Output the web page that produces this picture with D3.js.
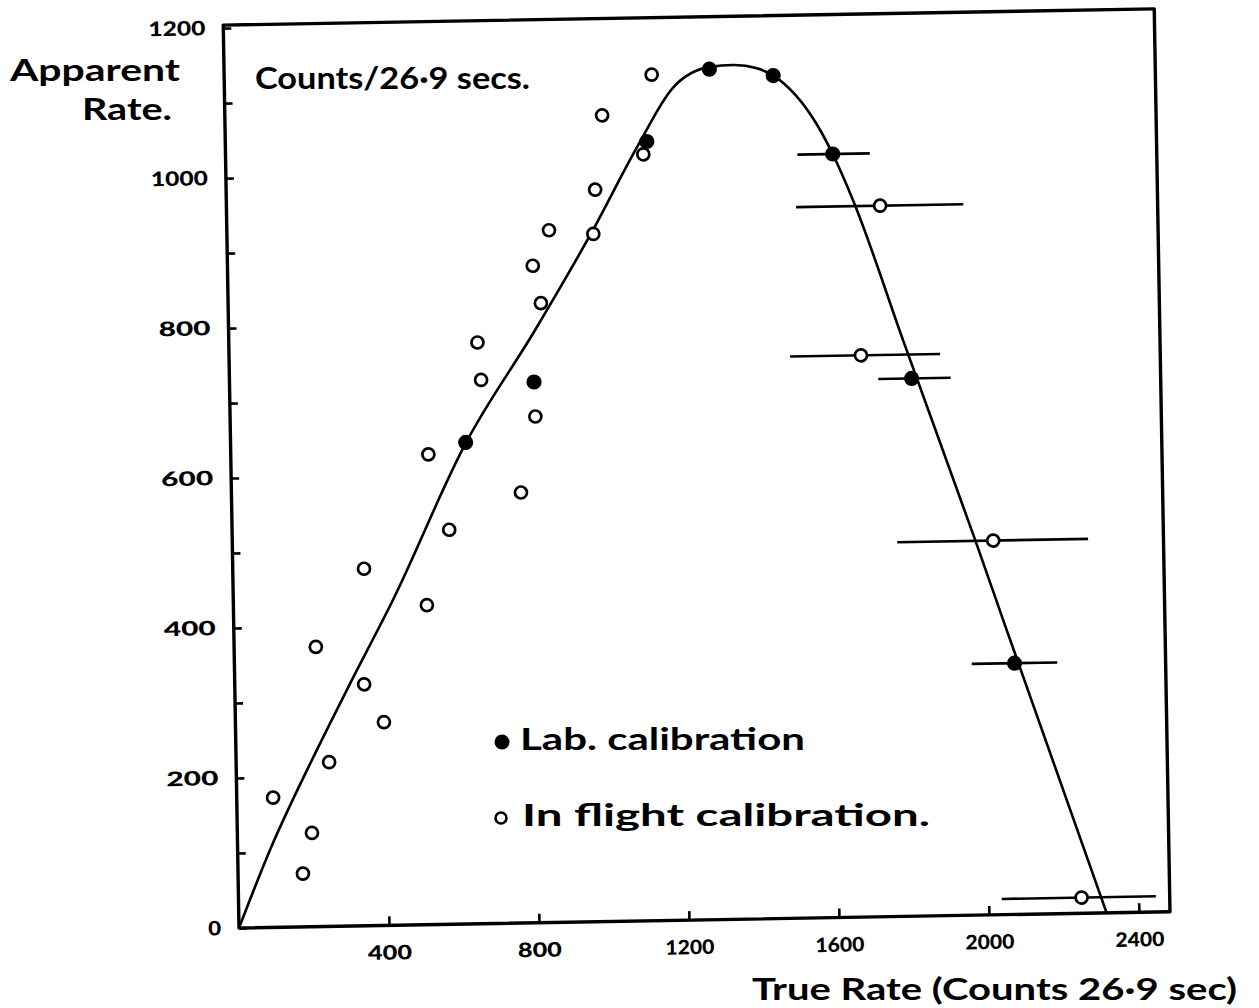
<!DOCTYPE html>
<html>
<head>
<meta charset="utf-8">
<script src="https://cdn.jsdelivr.net/npm/d3@7"></script>
<style>
  html, body { margin: 0; padding: 0; background: #fff; }
  svg { display: block; }
  text { font-family: Lato, "Open Sans", sans-serif; fill: #000; }
</style>
</head>
<body>
<svg id="chart" width="1259" height="1008"></svg>
<script>
// Lab calibration: true rate vs apparent rate (counts / 26.9 s), with horizontal error bounds
const labTrue     = [627, 812, 1124, 1294, 1464, 1619, 1819, 2080];
const labApparent = [642, 721, 1039, 1134, 1124, 1018, 717, 335];
const labErrLow   = [null, null, null, null, null, 1525, 1730, 1966];
const labErrHigh  = [null, null, null, null, null, 1718, 1923, 2194];

// In-flight calibration points
const flightTrue     = [97, 173, 199, 218, 248, 350, 345, 396, 516, 527, 579, 663, 671, 772,
                        814, 814, 834, 859, 977, 984, 1006, 1114, 1140, 1743, 1685, 2029, 2248];
const flightApparent = [173, 71, 125, 373, 219, 476, 322, 271, 426, 627, 526, 775, 725, 574,
                        876, 675, 826, 923, 917, 976, 1075, 1022, 1128, 948, 749, 499, 21];
const flightErrLow   = [null, null, null, null, null, null, null, null, null, null, null, null, null, null,
                        null, null, null, null, null, null, null, null, null, 1519, 1496, 1773, 2035];
const flightErrHigh  = [null, null, null, null, null, null, null, null, null, null, null, null, null, null,
                        null, null, null, null, null, null, null, null, null, 1965, 1896, 2282, 2446];

// Hand-fitted response curve
const curveTrue     = [0, 86, 202, 302, 426, 627, 817, 976, 1098, 1196, 1296, 1357, 1421,
                       1464, 1579, 1619, 1671, 1798, 1981, 2061, 2314];
const curveApparent = [0, 103, 222, 318, 434, 641, 790, 922, 1032, 1110, 1137, 1139, 1134,
                       1124, 1057, 1018, 956, 768, 500, 379, 0];

// Axis ticks
const xTickValues = [400, 800, 1200, 1600, 2000, 2400];
const yTickValues = [0, 100, 200, 300, 400, 500, 600, 700, 800, 900, 1000, 1100, 1200];
const yLabelStep = 200;

// Text
const yTitle = ["Apparent", "Rate."];
const unitNote = "Counts/26·9 secs.";
const xTitle = "True Rate (Counts 26·9 sec)";
const legendLabels = ["Lab. calibration", "In flight calibration."];

const svg = d3.select("#chart");

const x = d3.scaleLinear().domain([0, 2400]).range([0, 900]);
const y = d3.scaleLinear().domain([0, 1200]).range([0, -900]);
const xMax = 2483, yMax = 1204;

// plot area, drawn slightly tilted like the paper sheet
const g = svg.append("g").attr("transform", "translate(239,928) rotate(-1)");

// frame
g.append("path")
  .attr("d", `M0,0 L${x(xMax)},0 L${x(xMax)},${y(yMax)} L0,${y(yMax)} Z`)
  .attr("fill", "none").attr("stroke", "#000").attr("stroke-width", 3.4)
  .attr("stroke-linejoin", "round");

// tick label width by digit count, to mimic the broad hand lettering
const tickLen = s => ({ 1: 13, 3: 52, 4: 57 })[String(s).length];

// axes
const yAxis = d3.axisLeft(y).tickValues(yTickValues)
  .tickSizeInner(-8).tickSizeOuter(0).tickPadding(18)
  .tickFormat(d => d % yLabelStep === 0 ? String(d) : "");
const gy = g.append("g").call(yAxis);
gy.select(".domain").remove();
gy.selectAll(".tick line").attr("stroke", "#000").attr("stroke-width", 2.6);
gy.selectAll(".tick text").style("font-family", "Lato, sans-serif")
  .style("font-size", "20px").style("font-weight", 900)
  .each(function (d) {
    const s = d3.select(this).text();
    if (s) d3.select(this).attr("textLength", tickLen(s)).attr("lengthAdjust", "spacingAndGlyphs");
  });

const xAxis = d3.axisBottom(x).tickValues(xTickValues)
  .tickSizeInner(-9).tickSizeOuter(0).tickPadding(20)
  .tickFormat(d3.format("d"));
const gx = g.append("g").call(xAxis);
gx.select(".domain").remove();
gx.selectAll(".tick line").attr("stroke", "#000").attr("stroke-width", 2.6);
gx.selectAll(".tick text").style("font-family", "Lato, sans-serif")
  .style("font-size", "20px").style("font-weight", 900)
  .attr("textLength", d => tickLen(d3.format("d")(d)) - 8)
  .attr("lengthAdjust", "spacingAndGlyphs");

// response curve
const curvePts = curveTrue.map((t, i) => [t, curveApparent[i]]);
g.append("path")
  .datum(curvePts)
  .attr("d", d3.line().x(d => x(d[0])).y(d => y(d[1])).curve(d3.curveMonotoneX))
  .attr("fill", "none").attr("stroke", "#000").attr("stroke-width", 2.6);

// error bars
function errBars(tv, av, lo, hi) {
  const rows = tv.map((t, i) => ({ a: av[i], lo: lo[i], hi: hi[i] })).filter(r => r.lo != null);
  g.append("g").selectAll("line").data(rows).join("line")
    .attr("x1", d => x(d.lo)).attr("x2", d => x(d.hi))
    .attr("y1", d => y(d.a)).attr("y2", d => y(d.a))
    .attr("stroke", "#000").attr("stroke-width", 2.6);
}
errBars(labTrue, labApparent, labErrLow, labErrHigh);
errBars(flightTrue, flightApparent, flightErrLow, flightErrHigh);

// in-flight points: open circles
g.append("g").selectAll("circle").data(flightTrue.map((t, i) => [t, flightApparent[i]])).join("circle")
  .attr("cx", d => x(d[0])).attr("cy", d => y(d[1])).attr("r", 6)
  .attr("fill", "#fff").attr("stroke", "#000").attr("stroke-width", 2.7);

// lab points: filled dots
g.append("g").selectAll("circle").data(labTrue.map((t, i) => [t, labApparent[i]])).join("circle")
  .attr("cx", d => x(d[0])).attr("cy", d => y(d[1])).attr("r", 7.6)
  .attr("fill", "#000");

// titles and notes
function label(txt, px, py, len, size) {
  svg.append("text").attr("x", px).attr("y", py).text(txt)
    .attr("textLength", len).attr("lengthAdjust", "spacingAndGlyphs")
    .style("font-size", (size || 31) + "px").style("font-weight", 700);
}
label(yTitle[0], 10, 81, 170);
label(yTitle[1], 82, 120, 90);
label(unitNote, 255, 89, 275);
label(xTitle, 752, 1000, 485);

// legend
svg.append("circle").attr("cx", 502).attr("cy", 742).attr("r", 7.5).attr("fill", "#000");
svg.append("circle").attr("cx", 501).attr("cy", 818).attr("r", 5.5)
  .attr("fill", "#fff").attr("stroke", "#000").attr("stroke-width", 2.6);
label(legendLabels[0], 520, 750, 285, 30);
label(legendLabels[1], 522, 826, 408, 30);
</script>
</body>
</html>
